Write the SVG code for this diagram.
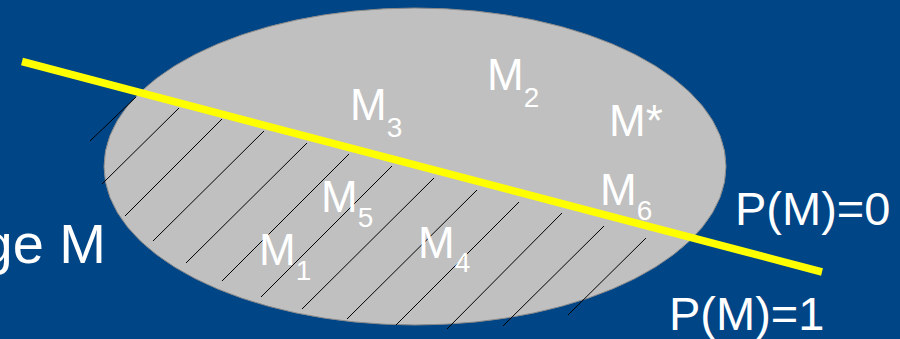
<svg xmlns="http://www.w3.org/2000/svg" width="900" height="339" viewBox="0 0 900 339">
<style>
.lbl{font-family:"Liberation Sans",Arial,sans-serif;fill:#ffffff;font-size:44px}
.sub{font-size:28px}
.big{font-size:47px}
.title{font-size:56px}
.hatch line{stroke:#000000;stroke-width:1}
</style>
<rect x="0" y="0" width="900" height="339" fill="#004586"/>
<g id="set">
<ellipse cx="415" cy="166.5" rx="311" ry="158.5" fill="#c0c0c0" stroke="#8a8a8a" stroke-width="1"/>
</g>
<g id="hatch" class="hatch">
<line x1="90" y1="141" x2="136" y2="97"/>
<line x1="102" y1="184" x2="179" y2="108"/>
<line x1="125" y1="216" x2="222" y2="119"/>
<line x1="153" y1="241" x2="264" y2="131"/>
<line x1="186" y1="263" x2="307" y2="143"/>
<line x1="222" y1="281" x2="349" y2="154"/>
<line x1="261" y1="297" x2="392" y2="166"/>
<line x1="302" y1="309" x2="434" y2="178"/>
<line x1="347" y1="319" x2="477" y2="190"/>
<line x1="396" y1="325" x2="519" y2="202"/>
<line x1="447" y1="329" x2="562" y2="213"/>
<line x1="503" y1="326" x2="604" y2="226"/>
<line x1="568" y1="315" x2="646" y2="238"/>
</g>
<g id="separator">
<line x1="22" y1="61.5" x2="822" y2="272" stroke="#ffff00" stroke-width="7.5"/>
</g>
<g id="labels">
<text class="lbl" x="350" y="120">M<tspan class="sub" dy="17">3</tspan></text>
<text class="lbl" x="487" y="90">M<tspan class="sub" dy="17">2</tspan></text>
<text class="lbl" x="609" y="136">M*</text>
<text class="lbl" x="600" y="205">M<tspan class="sub" dy="15">6</tspan></text>
<text class="lbl" x="321" y="212">M<tspan class="sub" dy="15">5</tspan></text>
<text class="lbl" x="259" y="265">M<tspan class="sub" dy="15">1</tspan></text>
<text class="lbl" x="418" y="258">M<tspan class="sub" dy="14">4</tspan></text>
<text class="lbl title" x="106" y="263" text-anchor="end">ge M</text>
<text class="lbl big" x="735" y="225">P(M)=0</text>
<text class="lbl big" x="669" y="330">P(M)=1</text>
</g>
</svg>
